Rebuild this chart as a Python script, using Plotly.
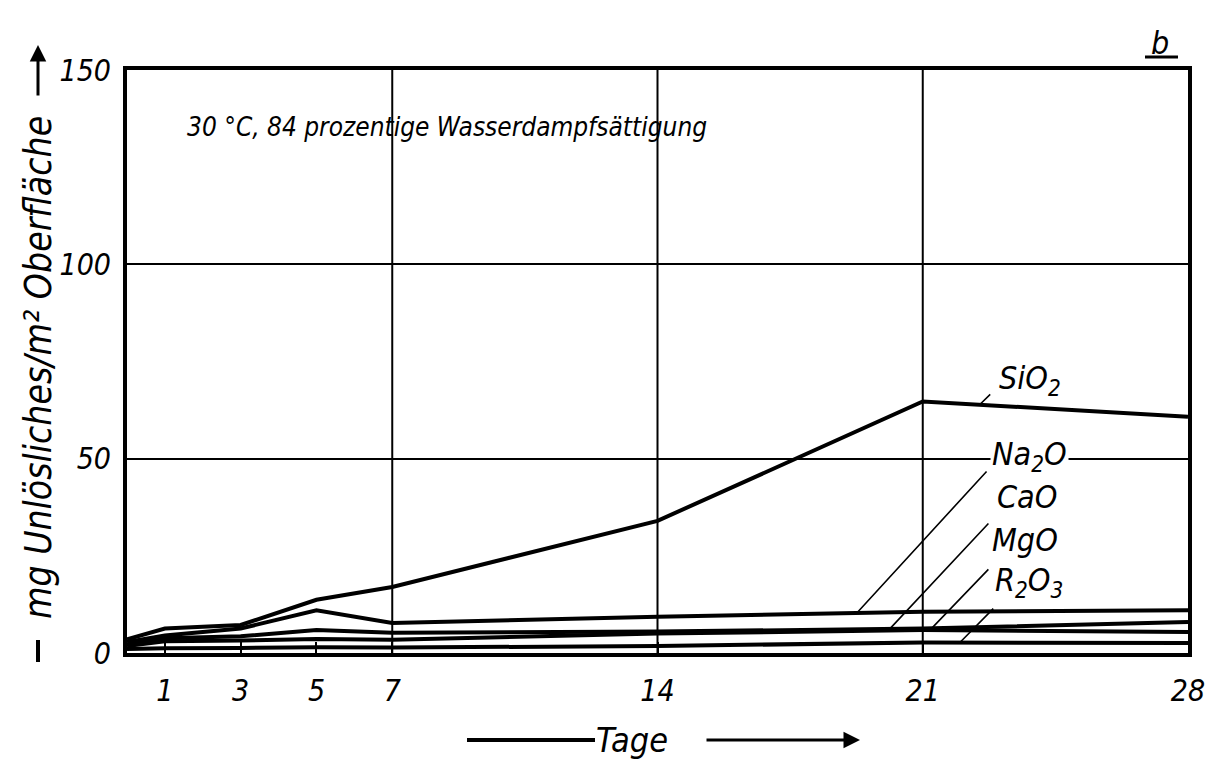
import numpy as np
import plotly.graph_objects as go

# ---- data ----
days = [0, 1, 3, 5, 7, 14, 21, 28]
sio2 = [3.5, 6.3, 7.2, 13.7, 17.0, 34.0, 64.7, 60.8]
na2o = [2.8, 4.5, 6.3, 11.0, 7.7, 9.3, 10.6, 11.0]
cao = [2.2, 3.8, 4.3, 5.9, 5.2, 5.5, 6.3, 8.0]
mgo = [1.8, 3.0, 3.2, 3.6, 3.4, 5.0, 5.9, 5.4]
r2o3 = [1.0, 1.2, 1.3, 1.5, 1.4, 1.8, 2.7, 2.6]

series_names = ["SiO<sub>2</sub>", "Na<sub>2</sub>O", "CaO", "MgO", "R<sub>2</sub>O<sub>3</sub>"]
series_values = [sio2, na2o, cao, mgo, r2o3]

x_ticks = [1, 3, 5, 7, 14, 21, 28]
x_grid = [7, 14, 21]
y_ticks = [0, 50, 100, 150]
y_tick_text = ["0", "50", "100", "150"]

title_text = "30 °C, 84 prozentige Wasserdampfsättigung"
y_title = "mg Unlösliches/m² Oberfläche"
x_title = "Tage"

# ---- label placement (layout only) ----
label_pos = [(22.95, 70.2), (22.77, 50.6), (22.9, 40.1), (22.77, 29.0), (22.85, 18.3)]
leader_tip_day = [22.5, 19.26, 20.13, 21.19, 21.98]
leader_tail = [(22.82, 66.9), (22.72, 47.1), (22.77, 33.7), (22.77, 21.9), (22.9, 11.8)]

FONT = "DejaVu Sans Condensed, DejaVu Sans, sans-serif"

PW, PH = 1061, 583  # plot area size in px


def px_x(px):
    return (px - 127) / PW


def px_y(py):
    return (653 - py) / PH


fig = go.Figure()
for name, vals in zip(series_names, series_values):
    fig.add_trace(go.Scatter(x=days, y=vals, mode="lines", name=name,
                             line=dict(color="black", width=4), showlegend=False,
                             hoverinfo="x+y+name"))

annotations = []
for name, vals, (lx, ly), td, (tx, ty) in zip(series_names, series_values, label_pos,
                                              leader_tip_day, leader_tail):
    tip_y = float(np.interp(td, days, vals))
    annotations.append(dict(x=td, y=tip_y, xref="x", yref="y", ax=tx, ay=ty,
                            axref="x", ayref="y", text="", showarrow=True,
                            arrowhead=0, arrowwidth=1.6, arrowcolor="black"))
    annotations.append(dict(x=lx, y=ly, xref="x", yref="y", text=name, showarrow=False,
                            xanchor="left", yanchor="middle",
                            bgcolor="white" if name.startswith("Na") else "rgba(0,0,0,0)",
                            font=dict(family=FONT, size=32, color="black", style="italic")))

# title inside plot
annotations.append(dict(x=px_x(185), y=px_y(127), xref="paper", yref="paper", text=title_text,
                        showarrow=False, xanchor="left", yanchor="middle",
                        font=dict(family=FONT, size=26, color="black", style="italic")))
# y axis title
annotations.append(dict(x=px_x(38), y=px_y(368), xref="paper", yref="paper", text=y_title,
                        textangle=-90, showarrow=False, xanchor="center", yanchor="middle",
                        font=dict(family=FONT, size=37, color="black", style="italic")))
# y arrow (top)
annotations.append(dict(x=px_x(38), y=px_y(45), xref="paper", yref="paper", ax=0, ay=52,
                        text="", showarrow=True, arrowhead=2, arrowsize=1.1, arrowwidth=3,
                        arrowcolor="black"))
# x title
annotations.append(dict(x=px_x(632), y=px_y(740), xref="paper", yref="paper", text=x_title,
                        showarrow=False, xanchor="center", yanchor="middle",
                        font=dict(family=FONT, size=34, color="black", style="italic")))
# x arrow (right)
annotations.append(dict(x=px_x(860), y=px_y(740), xref="paper", yref="paper",
                        ax=-155, ay=0, text="", showarrow=True, arrowhead=2, arrowsize=1.1,
                        arrowwidth=3, arrowcolor="black"))
# panel letter
annotations.append(dict(x=px_x(1160), y=px_y(43), xref="paper", yref="paper",
                        text="b", showarrow=False, xanchor="center", yanchor="middle",
                        font=dict(family=FONT, size=32, color="black", style="italic")))

shapes = []
for d in x_grid:
    shapes.append(dict(type="line", xref="x", yref="paper", x0=d, x1=d, y0=0, y1=1,
                       line=dict(color="black", width=2), layer="below"))
# left segment of x arrow
shapes.append(dict(type="line", xref="paper", yref="paper", x0=px_x(467), x1=px_x(595),
                   y0=px_y(740), y1=px_y(740), line=dict(color="black", width=4)))
# bottom segment of y arrow
shapes.append(dict(type="line", xref="paper", yref="paper", x0=px_x(38), x1=px_x(38),
                   y0=px_y(662), y1=px_y(640), line=dict(color="black", width=4)))
# underline of panel letter
shapes.append(dict(type="line", xref="paper", yref="paper", x0=px_x(1145), x1=px_x(1178),
                   y0=px_y(57), y1=px_y(57), line=dict(color="black", width=3)))

fig.update_layout(
    width=1218, height=765,
    margin=dict(l=119, r=38, t=62, b=120),
    paper_bgcolor="white", plot_bgcolor="white",
    font=dict(family=FONT, size=28, color="black", style="italic"),
    annotations=annotations, shapes=shapes,
    xaxis=dict(range=[0, 28], tickvals=x_ticks, ticktext=[str(t) for t in x_ticks],
               showgrid=False, zeroline=False, showline=True, mirror=True,
               linecolor="black", linewidth=4, ticks="inside", ticklen=11,
               tickwidth=2, tickcolor="black", ticklabelstandoff=8,
               tickfont=dict(family=FONT, size=30, style="italic")),
    yaxis=dict(range=[0, 150], tickvals=y_ticks, ticktext=y_tick_text,
               showgrid=True, gridcolor="black", gridwidth=2, zeroline=False,
               showline=True, mirror=True, linecolor="black", linewidth=4,
               ticks="", ticklabelstandoff=6,
               tickfont=dict(family=FONT, size=30, style="italic")),
)

fig.write_html("out.html")
